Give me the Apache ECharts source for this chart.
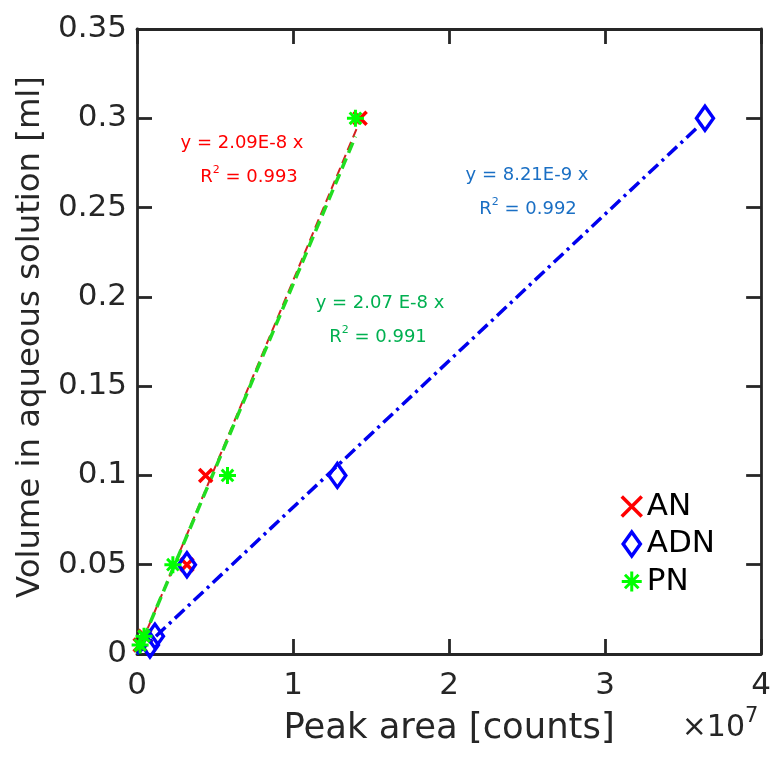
<!DOCTYPE html>
<html><head><meta charset="utf-8">
<script src="https://cdn.jsdelivr.net/npm/echarts@6/dist/echarts.min.js"></script>
<style>html,body{margin:0;padding:0;background:#fff}#c{width:774px;height:757px}</style>
</head><body><div id="c"></div>
<script>
// Volumes [ml] for each calibration point
const volumes = [0.005, 0.01, 0.05, 0.1, 0.3];
// Peak areas (units of 1e7 counts)
const anArea  = [0.02, 0.05, 0.32, 0.44, 1.43];
const adnArea = [0.083, 0.115, 0.32, 1.284, 3.64];
const pnArea  = [0.02, 0.045, 0.23, 0.58, 1.40];
// Fit slopes (ml per 1e7 counts) from the equations shown
const anSlope = 0.209, adnSlope = 0.0821, pnSlope = 0.207;
const xTicks = [0, 1, 2, 3, 4];
const yTicks = [0, 0.05, 0.1, 0.15, 0.2, 0.25, 0.3, 0.35];

const FONT = 'DejaVu Sans';
const AXC = '#262626';
const pts = (xs) => xs.map((x, i) => [x, volumes[i]]);
const fit = (xs, k) => { const xe = Math.max(...xs); return [[0, 0], [xe, k * xe]]; };

const SYM_X = 'path://M0,0L10,10M10,0L0,10';
const SYM_D = 'path://M5,0L10,7L5,14L0,7Z';
const SYM_S = 'path://M5,0L5,10M0,5L10,5M1.6,1.6L8.4,8.4M8.4,1.6L1.6,8.4';

const axisCommon = {
  axisLine: {show: true, onZero: false, lineStyle: {color: AXC, width: 2.8}},
  axisTick: {show: true, inside: true, length: 15, lineStyle: {color: AXC, width: 2.8}},
  splitLine: {show: false}
};

const chart = echarts.init(document.getElementById('c'));
chart.setOption({
  animation: false,
  backgroundColor: '#fff',
  grid: {left: 137, right: 11, top: 29, bottom: 103},
  xAxis: [
    Object.assign({type: 'value', min: xTicks[0], max: xTicks[xTicks.length-1], interval: 1,
      name: 'Peak area [counts]', nameLocation: 'middle', nameGap: 57,
      nameTextStyle: {fontFamily: FONT, fontSize: 35.4, color: AXC},
      axisLabel: {fontFamily: FONT, fontSize: 31, color: AXC, margin: 16, formatter: v => String(v)}}, axisCommon),
    Object.assign({type: 'value', position: 'top', min: 0, max: 4, interval: 1, axisLabel: {show: false}}, axisCommon)
  ],
  yAxis: [
    Object.assign({type: 'value', min: yTicks[0], max: yTicks[yTicks.length-1], interval: 0.05,
      name: 'Volume in aqueous solution [ml]', nameLocation: 'middle', nameGap: 84,
      nameTextStyle: {fontFamily: FONT, fontSize: 32.3, color: AXC, padding: [0, 0, 0, 9]},
      axisLabel: {fontFamily: FONT, fontSize: 31, color: AXC, margin: 10,
        formatter: v => String(parseFloat(v.toFixed(2)))}}, axisCommon),
    Object.assign({type: 'value', position: 'right', min: 0, max: 0.35, interval: 0.05, axisLabel: {show: false}}, axisCommon)
  ],
  legend: {
    orient: 'vertical', left: 615, top: 486, itemWidth: 20, itemHeight: 24, itemGap: 6.5,
    textStyle: {fontFamily: FONT, fontSize: 31, color: '#000', lineHeight: 31},
    data: [
      {name: 'AN', icon: SYM_X, itemStyle: {color: 'transparent', borderColor: '#ff0000', borderWidth: 3.5, opacity: 1}},
      {name: 'ADN', icon: SYM_D, itemStyle: {color: 'transparent', borderColor: '#0000ff', borderWidth: 3.5, opacity: 1}},
      {name: 'PN', icon: SYM_S, itemStyle: {color: 'transparent', borderColor: '#00ff00', borderWidth: 3, opacity: 1}}
    ]
  },
  series: [
    {name: 'AN fit', type: 'line', data: fit(anArea, anSlope), symbol: 'none', z: 2,
      lineStyle: {color: '#d42020', width: 2, type: [9, 5]}},
    {name: 'PN fit', type: 'line', data: fit(pnArea, pnSlope), symbol: 'none', z: 3,
      lineStyle: {color: '#22dd22', width: 3.5, type: [11, 6]}},
    {name: 'ADN fit', type: 'line', data: fit(adnArea, adnSlope), symbol: 'none', z: 3,
      lineStyle: {color: '#0000ee', width: 3.5, type: [13, 5, 3, 5]}},
    {name: 'AN', type: 'scatter', data: pts(anArea), symbol: SYM_X, symbolSize: 13, z: 4,
      itemStyle: {color: 'transparent', borderColor: '#ff0000', borderWidth: 3.5, opacity: 1}},
    {name: 'ADN', type: 'scatter', data: pts(adnArea), symbol: SYM_D, symbolSize: [17, 24], z: 4,
      itemStyle: {color: 'transparent', borderColor: '#0000ff', borderWidth: 3.5, opacity: 1}},
    {name: 'PN', type: 'scatter', data: pts(pnArea), symbol: SYM_S, symbolSize: 17, z: 5,
      itemStyle: {color: 'transparent', borderColor: '#00ff00', borderWidth: 3, opacity: 1}}
  ],
  graphic: [
    {type: 'text', x: 242, y: 143, style: {text: 'y = 2.09E-8 x', fill: '#ff0000', font: '18px "DejaVu Sans"', align: 'center', verticalAlign: 'middle'}},
    {type: 'text', x: 249, y: 177, style: {text: 'R{s|2} = 0.993', fill: '#ff0000', font: '18px "DejaVu Sans"', align: 'center', verticalAlign: 'middle',
      rich: {s: {fontSize: 11, fontFamily: FONT, fill: '#ff0000', verticalAlign: 'top', lineHeight: 24}}}},
    {type: 'text', x: 527, y: 175, style: {text: 'y = 8.21E-9 x', fill: '#1a6fc4', font: '18px "DejaVu Sans"', align: 'center', verticalAlign: 'middle'}},
    {type: 'text', x: 528, y: 209, style: {text: 'R{s|2} = 0.992', fill: '#1a6fc4', font: '18px "DejaVu Sans"', align: 'center', verticalAlign: 'middle',
      rich: {s: {fontSize: 11, fontFamily: FONT, fill: '#1a6fc4', verticalAlign: 'top', lineHeight: 24}}}},
    {type: 'text', x: 380, y: 303, style: {text: 'y = 2.07 E-8 x', fill: '#00b050', font: '18px "DejaVu Sans"', align: 'center', verticalAlign: 'middle'}},
    {type: 'text', x: 378, y: 337, style: {text: 'R{s|2} = 0.991', fill: '#00b050', font: '18px "DejaVu Sans"', align: 'center', verticalAlign: 'middle',
      rich: {s: {fontSize: 11, fontFamily: FONT, fill: '#00b050', verticalAlign: 'top', lineHeight: 24}}}},
    {type: 'text', x: 720, y: 728, style: {text: '×10{s|7}', fill: AXC, font: '30px "DejaVu Sans"', align: 'center', verticalAlign: 'middle',
      rich: {s: {fontSize: 21, fontFamily: FONT, fill: AXC, verticalAlign: 'top', lineHeight: 44}}}}
  ]
});
</script></body></html>
